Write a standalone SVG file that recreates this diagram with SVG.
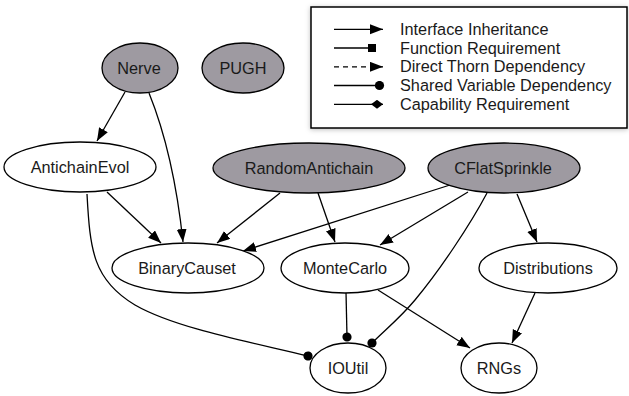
<svg xmlns="http://www.w3.org/2000/svg" width="629" height="396" viewBox="0 0 629 396">
<defs>
<style>
.n{stroke:#000;stroke-width:1.3}
.g{fill:#9e9aa1}
.w{fill:#fff}
text{font-family:"Liberation Sans",Arial,Helvetica,sans-serif;font-size:16.3px;fill:#1a1a1a}
.c{text-anchor:middle}
.e{fill:none;stroke:#000;stroke-width:1.3}
.arr{marker-end:url(#ah)}
.dot{marker-end:url(#dh)}
</style>
<marker id="ah" markerUnits="userSpaceOnUse" markerWidth="14" markerHeight="11" refX="13" refY="5" orient="auto"><path d="M0,0 L13,5 L0,10 z" fill="#000"/></marker>
<marker id="dh" markerUnits="userSpaceOnUse" markerWidth="10" markerHeight="10" refX="5" refY="5" orient="auto"><circle cx="5" cy="5" r="4.6" fill="#000"/></marker>
<marker id="sq" markerUnits="userSpaceOnUse" markerWidth="9" markerHeight="9" refX="8" refY="4" orient="auto"><rect x="0" y="0" width="8" height="8" fill="#000"/></marker>
<marker id="dm" markerUnits="userSpaceOnUse" markerWidth="13" markerHeight="10" refX="12" refY="4.5" orient="auto"><path d="M0,4.5 L6,0 L12,4.5 L6,9 z" fill="#000"/></marker>
<filter id="sh" x="-5%" y="-10%" width="110%" height="125%"><feDropShadow dx="0" dy="1" stdDeviation="2.5" flood-color="#000" flood-opacity="0.25"/></filter>
</defs>
<rect width="629" height="396" fill="#fff"/>

<g id="legend">
<rect x="311" y="7" width="316" height="121" fill="#fff" stroke="#000" stroke-width="1.5" filter="url(#sh)"/>
<path class="e arr" d="M334,29.3 L383,29.3"/>
<path class="e" d="M334,48 L376,48" marker-end="url(#sq)"/>
<path class="e arr" d="M334,66.8 L383,66.8" stroke-dasharray="5,4"/>
<path class="e" d="M334,85.5 L379.5,85.5" marker-end="url(#dh)"/>
<path class="e" d="M334,104.3 L383,104.3" marker-end="url(#dm)"/>
<text x="400" y="34.8">Interface Inheritance</text>
<text x="400" y="53.5">Function Requirement</text>
<text x="400" y="72.3">Direct Thorn Dependency</text>
<text x="400" y="91">Shared Variable Dependency</text>
<text x="400" y="109.8">Capability Requirement</text>
</g>

<g id="edges">
<path class="e arr" d="M125,92 L97,141"/>
<path class="e arr" d="M149,93 C168,140 178,195 183,242"/>
<path class="e arr" d="M107,192 L161,243"/>
<path class="e dot" d="M87,194 C90,250 93,280 135,305 C175,328 250,342 308,356"/>
<path class="e arr" d="M280,193 L217,243"/>
<path class="e arr" d="M318,193 L335,242"/>
<path class="e arr" d="M450,185 L243,251"/>
<path class="e arr" d="M468,192 L380,245"/>
<path class="e dot" d="M487,193 C470,225 440,270 415,300 C400,318 385,330 372,343"/>
<path class="e arr" d="M517,194 L537,242"/>
<path class="e dot" d="M346,292 L347,337"/>
<path class="e arr" d="M378,290 L470,348"/>
<path class="e arr" d="M535,293 L512,343"/>
</g>

<g id="Nerve"><ellipse class="n g" cx="140" cy="68" rx="38" ry="25"/><text class="c" x="139" y="73.5">Nerve</text></g>
<g id="PUGH"><ellipse class="n g" cx="243" cy="68" rx="41" ry="25"/><text class="c" x="243" y="73.5">PUGH</text></g>
<g id="AntichainEvol"><ellipse class="n w" cx="80" cy="167" rx="76" ry="25"/><text class="c" x="80" y="172.5">AntichainEvol</text></g>
<g id="RandomAntichain"><ellipse class="n g" cx="309" cy="168" rx="96" ry="25"/><text class="c" x="309" y="173.5">RandomAntichain</text></g>
<g id="CFlatSprinkle"><ellipse class="n g" cx="504" cy="168" rx="76" ry="25"/><text class="c" x="503" y="173.5">CFlatSprinkle</text></g>
<g id="BinaryCauset"><ellipse class="n w" cx="188" cy="268" rx="76" ry="25"/><text class="c" x="187" y="273.5">BinaryCauset</text></g>
<g id="MonteCarlo"><ellipse class="n w" cx="345" cy="268" rx="64" ry="25"/><text class="c" x="345" y="273.5">MonteCarlo</text></g>
<g id="Distributions"><ellipse class="n w" cx="548" cy="268" rx="69" ry="25"/><text class="c" x="548" y="273.5">Distributions</text></g>
<g id="IOUtil"><ellipse class="n w" cx="348" cy="368" rx="38" ry="25"/><text class="c" x="348" y="373.5">IOUtil</text></g>
<g id="RNGs"><ellipse class="n w" cx="499" cy="368" rx="38" ry="25"/><text class="c" x="499" y="373.5">RNGs</text></g>
</svg>
